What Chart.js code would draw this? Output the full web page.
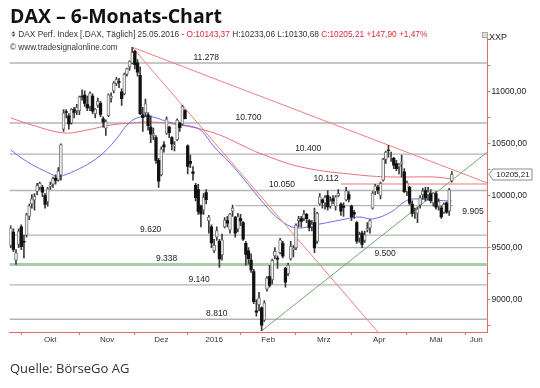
<!DOCTYPE html>
<html>
<head>
<meta charset="utf-8">
<script src="https://cdn.jsdelivr.net/npm/chart.js@4.4.1/dist/chart.umd.min.js"></script>
<style>
body{margin:0;background:#fff;}
#wrap{position:relative;width:540px;height:388px;overflow:hidden;}
#c{position:absolute;left:0;top:0;}
.txt{position:absolute;white-space:nowrap;z-index:2;}
#title{left:10px;top:6px;font:700 19.5px/20px "Open Sans",sans-serif;color:#111;}
#sub{left:11px;top:29px;font:8.3px/10px "Liberation Sans",Arial,sans-serif;color:#333;}
#sub .r{color:#e0283a;}
#copy{left:10px;top:43px;font:8.2px/10px "Liberation Sans",Arial,sans-serif;color:#333;}
#xxp{left:489px;top:32px;font:9px/10px "Liberation Sans",Arial,sans-serif;color:#222;}
#xbox{position:absolute;left:482px;top:32px;width:4px;height:4px;border:1px solid #aaa;background:#ddd;z-index:2;}
#src{left:10px;top:359px;font:13px/18px "Open Sans",sans-serif;color:#333;}
</style>
</head>
<body>
<div id="wrap">
<canvas id="c" width="540" height="388"></canvas>
<div class="txt" id="title">DAX – 6-Monats-Chart</div>
<div class="txt" id="sub">⌽ DAX Perf. Index [.DAX, Täglich] 25.05.2016 - <span class="r">O:10143,37</span> H:10233,06 L:10130,68 <span class="r">C:10205,21 +147,90 +1,47%</span></div>
<div class="txt" id="copy">© www.tradesignalonline.com</div>
<div id="xbox"></div>
<div class="txt" id="xxp">XXP</div>
<div class="txt" id="src">Quelle: BörseGo AG</div>
</div>
<script>
// daily candles, trading day 0 = 25.09.2015 ... 167 = 25.05.2016
const opens=[9520,9650,9380,9530,9700,9560,9620,9800,9920,9960,
10040,10080,10080,10000,9940,10090,10110,10170,10150,10200,
10640,10810,10770,10700,10830,10820,10820,10960,10970,10880,
10860,10960,10790,10870,10890,10740,10650,10770,10940,11010,
11080,11100,11000,10980,11170,11240,11280,11390,11280,11160,
10780,10800,10780,10660,10580,10560,10340,10200,10490,10600,
10660,10560,10480,10540,10700,10690,10820,10480,10330,10230,
10100,10060,9900,9860,10030,9760,9700,9470,9600,9560,
9430,9700,9760,9670,9850,9790,9680,9780,9740,9540,
9470,9380,9270,8890,8950,8920,8800,9100,9220,9190,
9420,9400,9450,9540,9300,9250,9390,9480,9500,9760,
9780,9780,9820,9760,9700,9740,9560,9920,9960,9930,
10000,9900,9970,9900,10000,9920,9900,9960,10010,9900,
9840,9740,9590,9640,9570,9670,9690,9880,10040,10080,
10000,10150,10350,10440,10370,10360,10310,10280,10310,10230,
10040,10080,9920,9850,9830,9910,10010,10050,10010,10020,
9930,10020,9900,9880,9840,9930,9850,10143.37];
const highs=[9710,9680,9480,9680,9720,9620,9830,9920,10010,10020,
10120,10130,10100,10020,10080,10130,10180,10200,10270,10500,
10830,10830,10790,10840,10850,10880,10960,11020,11010,10960,
11000,10980,10840,10940,10910,10760,10730,10980,10990,11100,
11140,11130,11030,11180,11230,11300,11430,11400,11310,11240,
10850,10930,10800,10770,10650,10580,10360,10470,10520,10760,
10670,10570,10520,10740,10710,10870,10830,10490,10390,10280,
10120,10110,9910,10020,10060,9810,9720,9580,9700,9580,
9630,9790,9800,9830,9910,9800,9830,9820,9750,9560,
9500,9440,9290,9000,9070,8930,8990,9220,9330,9390,
9500,9420,9590,9560,9310,9350,9560,9520,9730,9800,
9800,9860,9830,9770,9760,9880,9840,10020,9970,10000,
10050,9990,10000,10000,10060,9930,9930,10080,10040,9910,
9860,9750,9650,9660,9660,9740,9770,10040,10110,10100,
10130,10360,10430,10486,10420,10370,10340,10310,10390,10260,
10140,10090,9950,9880,9890,10000,10070,10080,10080,10060,
10030,10040,9970,9900,9930,9940,10070,10233.06];
const lows=[9500,9460,9338,9500,9480,9400,9600,9770,9880,9860,
10010,10060,9990,9880,9900,10060,10080,10110,10140,10150,
10620,10750,10640,10690,10750,10780,10780,10920,10860,10820,
10820,10790,10750,10850,10760,10660,10580,10760,10900,10990,
11060,11040,10870,10970,11150,11210,11270,11220,11150,10780,
10620,10760,10630,10510,10540,10310,10080,10190,10420,10590,
10560,10440,10430,10530,10620,10680,10740,10210,10270,10150,
9950,9820,9700,9820,9920,9640,9500,9450,9570,9310,
9380,9690,9700,9640,9800,9600,9650,9710,9570,9330,
9340,9260,8960,8840,8890,8699,8790,9080,9120,9150,
9390,9300,9440,9400,9120,9230,9380,9410,9480,9700,
9700,9760,9740,9660,9660,9450,9540,9910,9880,9870,
9860,9880,9920,9860,9990,9810,9800,9950,9940,9760,
9780,9540,9550,9500,9550,9650,9640,9870,10010,10020,
9970,10140,10310,10370,10330,10260,10240,10210,10180,10030,
10000,9910,9800,9780,9740,9880,9970,9950,9960,9930,
9900,9870,9860,9780,9830,9830,9810,10130.68];
const closes=[9688,9483,9450,9660,9509,9553,9815,9903,9970,9993,
10097,10120,10033,9916,10065,10104,10164,10148,10238,10492,
10795,10801,10692,10832,10801,10850,10951,10951,10888,10845,
10988,10815,10833,10908,10783,10708,10713,10971,10960,11085,
11120,11092,10934,11170,11224,11294,11382,11261,11190,10789,
10752,10886,10674,10592,10599,10340,10139,10450,10469,10738,
10608,10498,10489,10728,10654,10860,10743,10283,10310,10214,
9980,9849,9825,9985,9961,9794,9545,9522,9664,9392,
9574,9765,9736,9823,9881,9640,9798,9758,9581,9435,
9393,9286,8979,8879,9017,8753,8968,9207,9135,9377,
9464,9388,9574,9417,9168,9331,9513,9495,9717,9777,
9752,9824,9779,9693,9723,9498,9831,9990,9934,9983,
9892,9951,9949,9990,10023,9851,9888,10047,9966,9795,
9822,9563,9625,9531,9622,9683,9761,10026,10094,10052,
10120,10350,10421,10436,10373,10294,10260,10300,10321,10039,
10123,9927,9828,9852,9870,9980,10045,9975,10036,9953,
10026,9890,9943,9796,9916,9842,10057,10205.21];

// moving averages (day, value)
const smaShortDay=[0,4,8,12,16,18,20,26,32,37,41,44,47,51,55,59,64,68,72,77,83,90,97,102,108,117,125,132,137,144,149,152,158,167];
const smaShortVal=[10440,10365,10300,10248,10200,10182,10195,10260,10350,10460,10580,10680,10740,10765,10750,10715,10685,10670,10630,10470,10315,10105,9890,9766,9690,9727,9766,9795,9776,9843,9940,9968,9959,9949];
const smaLongDay=[0,8,20,27,38,46,53,64,77,89,94,110,132,145,160,167];
const smaLongVal=[10749,10681,10604,10623,10681,10700,10710,10681,10604,10469,10411,10276,10199,10180,10180,10161];

// horizontal levels
const levelValues=[11278,10700,10400,10112,10050,9905,9620,9500,9338,9140,8810];
const levelFrom=[-0.5,-0.5,-0.5,125,-0.5,85,-0.5,116,-0.5,-0.5,-0.5];
const levelTo=[180.5,180.5,180.5,180.5,180.5,167.5,180.5,180.5,180.5,180.5,180.5];

// trend lines: [day0, value0, day1, value1]
const trendDown1=[46,11430,180.5,10122];
const trendDown2=[46,11430,139,8687];
const trendUp=[95,8699,180.5,10421];

// axes
const monthStarts=[4,26,47,67,87,108,129,150,172];
const monthNames=['Okt','Nov','Dez','2016','Feb','Mrz','Apr','Mai','Jun'];
const yTicks=[8750,9000,9250,9500,9750,10000,10250,10500,10750,11000,11250,11500];
const yLabelled=[9000,9500,10000,10500,11000];

const xMin=-0.5, xMax=180.5, yMin=8687, yMax=11567;

// label layout for the levels
const levelLabelDay=[74,90,112.6,119.4,102.7,175,53,141.7,59,71.3,78];
const levelLabelBelow=[false,false,false,false,false,true,false,true,false,false,false];

function fmtLevel(v){
	const s=String(v);
	return s.slice(0,s.length-3)+'.'+s.slice(-3);
}
function fmtPrice(v){
	return v.toFixed(2).replace('.',',');
}

let wicks=[],upBodies=[],downBodies=[];
for(let i=0;i<closes.length;i++){
	wicks.push({x:i,y:[lows[i],highs[i]]});
	if(closes[i]>=opens[i]) upBodies.push({x:i,y:[opens[i],closes[i]]});
	else downBodies.push({x:i,y:[closes[i],opens[i]]});
}

const datasets=[];
levelValues.forEach(function(v,i){
	let col='#b4b4b4',w=1.3;
	if(v==9338){col='#a9cca9';w=3;}
	if(v==10112){col='#f2a4a4';w=1.5;}
	datasets.push({type:'line',data:[{x:levelFrom[i],y:v},{x:levelTo[i],y:v}],borderColor:col,borderWidth:w,pointRadius:0,order:20});
});
datasets.push({type:'line',data:smaLongDay.map((d,i)=>({x:d,y:smaLongVal[i]})),borderColor:'#e8707c',borderWidth:1,pointRadius:0,tension:0.4,order:12});
datasets.push({type:'line',data:smaShortDay.map((d,i)=>({x:d,y:smaShortVal[i]})),borderColor:'#6a6ee8',borderWidth:1,pointRadius:0,tension:0.4,order:11});
[trendDown1,trendDown2].forEach(function(t){
	datasets.push({type:'line',data:[{x:t[0],y:t[1]},{x:t[2],y:t[3]}],borderColor:'#ec8080',borderWidth:1,pointRadius:0,order:10});
});
datasets.push({type:'line',data:[{x:trendUp[0],y:trendUp[1]},{x:trendUp[2],y:trendUp[3]}],borderColor:'#6aae6a',borderWidth:1,pointRadius:0,order:10});
datasets.push({type:'bar',data:wicks,backgroundColor:'#3a3a3a',barThickness:1,grouped:false,order:3});
datasets.push({type:'bar',data:upBodies,backgroundColor:'#f4f4f4',borderColor:'#777',borderWidth:1,borderSkipped:false,barThickness:3,grouped:false,order:2});
datasets.push({type:'bar',data:downBodies,backgroundColor:'#111',barThickness:2.6,grouped:false,order:1});

const levelLabels={
	id:'levelLabels',
	afterDatasetsDraw(chart){
		const ctx=chart.ctx,x=chart.scales.x,y=chart.scales.y;
		ctx.save();
		ctx.font='8.5px "Liberation Sans", Arial, sans-serif';
		ctx.fillStyle='#222';
		ctx.textAlign='center';
		levelValues.forEach(function(v,i){
			const px=x.getPixelForValue(levelLabelDay[i]);
			const py=y.getPixelForValue(v);
			if(levelLabelBelow[i]){ctx.textBaseline='top';ctx.fillText(fmtLevel(v),px,py+2);}
			else{ctx.textBaseline='alphabetic';ctx.fillText(fmtLevel(v),px,py-3);}
		});
		ctx.restore();
	}
};

const priceBox={
	id:'priceBox',
	afterDraw(chart){
		const ctx=chart.ctx,y=chart.scales.y;
		const last=closes[closes.length-1];
		const py=Math.round(y.getPixelForValue(last))+0.5;
		const x0=chart.chartArea.right+1.5,x1=x0+43,h=5.5;
		ctx.save();
		ctx.beginPath();
		ctx.moveTo(x0,py);
		ctx.lineTo(x0+4,py-h);
		ctx.lineTo(x1,py-h);
		ctx.lineTo(x1,py+h);
		ctx.lineTo(x0+4,py+h);
		ctx.closePath();
		ctx.fillStyle='#fff';
		ctx.fill();
		ctx.strokeStyle='#8a8a8a';
		ctx.lineWidth=1;
		ctx.stroke();
		ctx.font='8px "Liberation Sans", Arial, sans-serif';
		ctx.fillStyle='#222';
		ctx.textAlign='center';
		ctx.textBaseline='middle';
		ctx.fillText(fmtPrice(last),x0+24,py+0.5);
		ctx.restore();
	}
};

const ctx=document.getElementById('c').getContext('2d');
new Chart(ctx,{
	type:'bar',
	data:{datasets:datasets},
	options:{
		responsive:false,
		animation:false,
		devicePixelRatio:1,
		layout:{padding:{left:9.4,top:33,right:0,bottom:40}},
		plugins:{legend:{display:false},tooltip:{enabled:false}},
		scales:{
			x:{
				type:'linear',min:xMin,max:xMax,offset:false,
				afterBuildTicks:function(scale){
					const t=[];
					monthStarts.forEach(function(s,i){
						t.push({value:s,edge:true});
						const next=i+1<monthStarts.length?monthStarts[i+1]:xMax;
						t.push({value:(s+next)/2,name:monthNames[i]});
					});
					scale.ticks=t;
				},
				afterFit:function(scale){scale.height=16;},
				ticks:{
					autoSkip:false,maxRotation:0,minRotation:0,padding:0,
					color:'#333',font:{family:'"Liberation Sans", Arial, sans-serif',size:8},
					callback:function(v,i,ticks){return ticks[i].name||'';}
				},
				grid:{
					offset:false,drawOnChartArea:false,drawTicks:true,tickLength:3,
					tickColor:function(c){return c.tick&&c.tick.edge?'#e07070':'rgba(0,0,0,0)';}
				},
				border:{display:true,color:'#e46a6a',width:1}
			},
			y:{
				position:'right',min:yMin,max:yMax,
				afterBuildTicks:function(scale){scale.ticks=yTicks.map(v=>({value:v}));},
				afterFit:function(scale){scale.width=52.5;},
				ticks:{
					padding:1,color:'#222',font:{family:'"Liberation Sans", Arial, sans-serif',size:8.5},
					callback:function(v){return yLabelled.indexOf(v)>=0?fmtPrice(v):'';}
				},
				grid:{drawOnChartArea:false,drawTicks:true,tickLength:3,tickColor:'#e07070'},
				border:{display:true,color:'#e46a6a',width:1}
			}
		}
	},
	plugins:[levelLabels,priceBox]
});
</script>
</body>
</html>
